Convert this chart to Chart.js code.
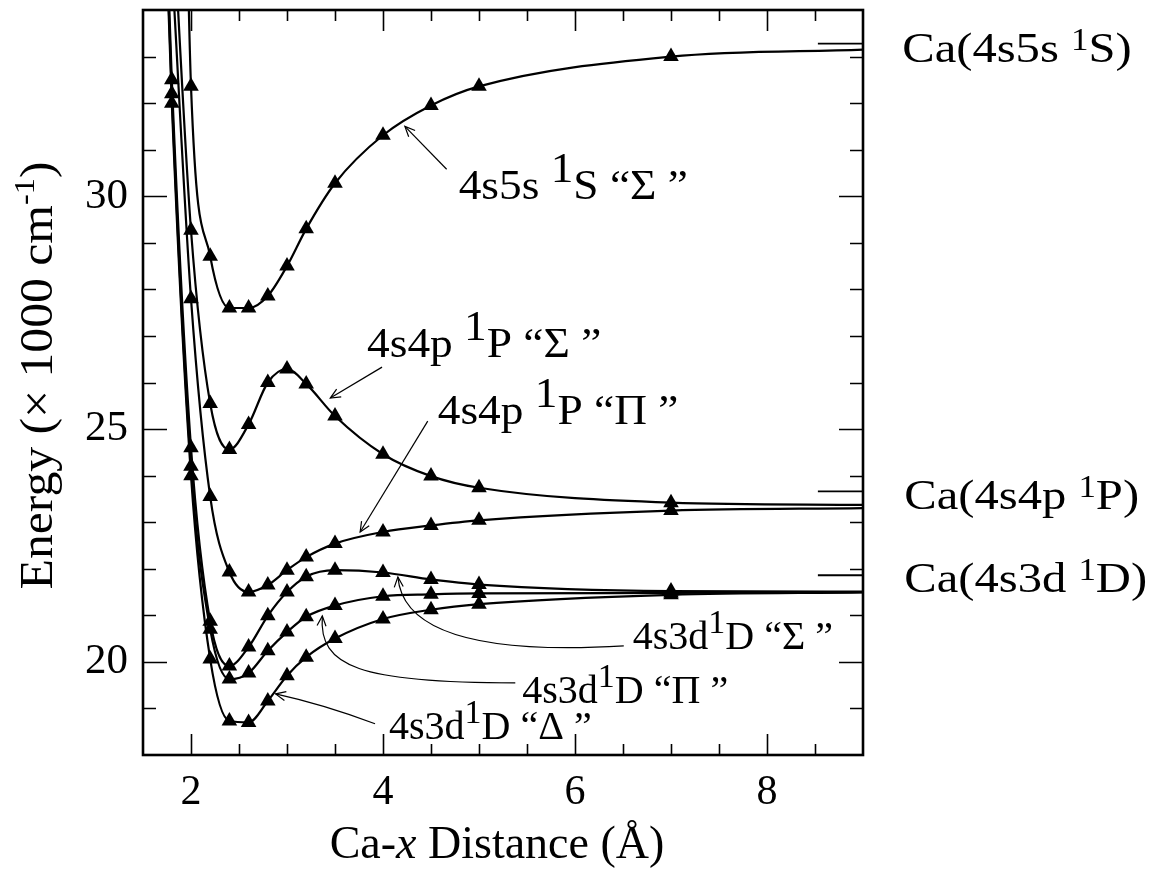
<!DOCTYPE html>
<html><head><meta charset="utf-8">
<script src="https://cdn.jsdelivr.net/npm/chart.js@4.4.0/dist/chart.umd.min.js"></script>
<style>html,body{margin:0;padding:0;background:#fff;}#wrap{width:1149px;height:870px;position:relative;}</style>
</head><body><div id="wrap"><canvas id="c"></canvas></div>
<script>
const FONT = '"Liberation Serif", "Times New Roman", serif';

// ---------- data ----------
const xTickLabels = [2, 4, 6, 8];
const yTickLabels = [20, 25, 30];

const dist_4s5s = [1.9, 2.0, 2.2, 2.4, 2.6, 2.8, 3.0, 3.2, 3.5, 4.0, 4.5, 5.0, 7.0, 9.0];
const e_4s5sSigma = [42.0, 32.36, 28.71, 27.6, 27.6, 27.86, 28.5, 29.3, 30.28, 31.31, 31.95, 32.36, 33.0, 33.15];

const dist_4s4p = [1.8, 2.0, 2.2, 2.4, 2.6, 2.8, 3.0, 3.2, 3.5, 4.0, 4.5, 5.0, 7.0, 9.0];
const e_4s4pSigma = [36.5, 29.27, 25.55, 24.56, 25.1, 26.0, 26.29, 25.97, 25.28, 24.46, 23.99, 23.74, 23.42, 23.37];
const e_4s4pPi    = [35.0, 27.8, 23.55, 21.93, 21.5, 21.65, 21.97, 22.25, 22.54, 22.79, 22.93, 23.04, 23.25, 23.3];

const dist_4s3d = [1.7, 1.8, 2.0, 2.2, 2.4, 2.6, 2.8, 3.0, 3.2, 3.5, 4.0, 4.5, 5.0, 7.0, 9.0];
const e_4s3dSigma = [38.5, 32.5, 24.6, 20.87, 19.91, 20.32, 20.99, 21.5, 21.83, 21.97, 21.92, 21.77, 21.66, 21.52, 21.51];
const e_4s3dPi    = [38.2, 32.2, 24.2, 20.7, 19.63, 19.76, 20.24, 20.64, 20.97, 21.21, 21.41, 21.45, 21.47, 21.48, 21.5];
const e_4s3dDelta = [38.0, 32.0, 24.0, 20.06, 18.73, 18.7, 19.16, 19.7, 20.1, 20.5, 20.92, 21.12, 21.24, 21.44, 21.49];

const asymLevels = [33.28, 23.66, 21.86];   // Ca(4s5s 1S), Ca(4s4p 1P), Ca(4s3d 1D)
const asymRange = [8.53, 9.0];

const xMin = 1.5, xMax = 9, yMin = 18, yMax = 34;

// ---------- build datasets ----------
function zipXY(xs, ys) { return xs.map((x, i) => ({ x: x, y: ys[i] })); }
function curve(xs, ys) {
  return {
    data: zipXY(xs, ys),
    borderColor: '#000', borderWidth: 2.2,
    backgroundColor: '#000',
    pointStyle: 'triangle',
    pointRadius: ctx => { const p = ctx.raw; return (p && (p.x >= 9 || p.y > yMax)) ? 0 : 9; },
    pointBorderWidth: 0,
    pointBackgroundColor: '#000',
    cubicInterpolationMode: 'monotone',
    tension: 0.4,
    clip: 1,
    order: 1
  };
}
const datasets = [
  curve(dist_4s5s, e_4s5sSigma),
  curve(dist_4s4p, e_4s4pSigma),
  curve(dist_4s4p, e_4s4pPi),
  curve(dist_4s3d, e_4s3dSigma),
  curve(dist_4s3d, e_4s3dPi),
  curve(dist_4s3d, e_4s3dDelta)
];
asymLevels.forEach(v => datasets.push({
  data: asymRange.map(x => ({ x: x, y: v })),
  borderColor: '#000', borderWidth: 1.8, pointRadius: 0, tension: 0, clip: 1, order: 2
}));

// ---------- annotations (data coordinates) ----------
const SUP = (t) => ({ t: t, sup: true });
const textLabels = [
  { segs: [{ t: '4s5s ' }, SUP('1'), { t: 'S \u201C\u03A3 \u201D' }], at: [4.788, 29.936], size: 42, sx: 1.08, supK: 1.0, supUp: 17 },
  { segs: [{ t: '4s4p ' }, SUP('1'), { t: 'P \u201C\u03A3 \u201D' }], at: [3.834, 26.545], size: 42, sx: 1.08, supK: 1.0, supUp: 17 },
  { segs: [{ t: '4s4p ' }, SUP('1'), { t: 'P \u201C\u03A0 \u201D' }], at: [4.570, 25.107], size: 42, sx: 1.08, supK: 1.0, supUp: 17 },
  { segs: [{ t: '4s3d' }, SUP('1'), { t: 'D \u201C\u03A3 \u201D' }], at: [6.601, 20.279], size: 40, sx: 1.0, supK: 0.85, supUp: 16 },
  { segs: [{ t: '4s3d' }, SUP('1'), { t: 'D \u201C\u03A0 \u201D' }], at: [5.451, 19.12], size: 40, sx: 1.0, supK: 0.85, supUp: 16 },
  { segs: [{ t: '4s3d' }, SUP('1'), { t: 'D \u201C\u0394 \u201D' }], at: [4.062, 18.348], size: 40, sx: 1.0, supK: 0.85, supUp: 16 },
  { segs: [{ t: 'Ca(4s5s ' }, SUP('1'), { t: 'S)' }], at: [9.409, 32.876], size: 43, sx: 1.13, supK: 0.72, supUp: 12 },
  { segs: [{ t: 'Ca(4s4p ' }, SUP('1'), { t: 'P)' }], at: [9.430, 23.283], size: 43, sx: 1.13, supK: 0.72, supUp: 12 },
  { segs: [{ t: 'Ca(4s3d ' }, SUP('1'), { t: 'D)' }], at: [9.430, 21.502], size: 43, sx: 1.13, supK: 0.72, supUp: 12 }
];
const arrows = [
  { kind: 'line', pts: [[4.663, 30.58], [4.228, 31.50]] },
  { kind: 'line', pts: [[3.990, 26.33], [3.451, 25.665]] },
  { kind: 'line', pts: [[4.466, 25.17], [3.762, 22.79]] },
  { kind: 'quad', pts: [[6.508, 20.343], [4.228, 20.064], [4.155, 21.824]] },
  { kind: 'cubic', pts: [[5.378, 19.549], [3.762, 19.549], [3.326, 19.893], [3.368, 20.987]] },
  { kind: 'quad', pts: [[3.917, 18.670], [3.399, 19.077], [2.881, 19.313]] }
];

function drawRich(ctx, segs, x, y, size, sx, supK, supUp, measureOnly) {
  ctx.save();
  ctx.translate(x, y);
  ctx.scale(sx, 1);
  ctx.textBaseline = 'alphabetic';
  ctx.textAlign = 'left';
  ctx.fillStyle = '#000';
  let cx = 0;
  for (const s of segs) {
    const fs = s.sup ? size * supK : size;
    ctx.font = (s.it ? 'italic ' : '') + fs + 'px ' + FONT;
    if (!measureOnly) ctx.fillText(s.t, cx, s.sup ? -supUp : 0);
    cx += ctx.measureText(s.t).width;
  }
  ctx.restore();
  return cx * sx;
}

function arrowHead(ctx, tx, ty, fx, fy) {
  const a = Math.atan2(ty - fy, tx - fx), len = 11, ang = 0.42;
  ctx.beginPath();
  ctx.moveTo(tx - len * Math.cos(a - ang), ty - len * Math.sin(a - ang));
  ctx.lineTo(tx, ty);
  ctx.lineTo(tx - len * Math.cos(a + ang), ty - len * Math.sin(a + ang));
  ctx.stroke();
}

const decor = {
  id: 'decor',
  afterDatasetsDraw(chart) {
    const ctx = chart.ctx, xs = chart.scales.x, ys = chart.scales.y, ca = chart.chartArea;
    const P = (p) => [xs.getPixelForValue(p[0]), ys.getPixelForValue(p[1])];
    ctx.save();
    ctx.strokeStyle = '#000';
    ctx.lineCap = 'butt';
    // frame
    ctx.lineWidth = 2.6;
    ctx.strokeRect(ca.left, ca.top, ca.right - ca.left, ca.bottom - ca.top);
    // ticks (inward, on all four sides)
    ctx.lineWidth = 1.6;
    ctx.beginPath();
    for (let v = 2; v <= 8.5001; v += 0.5) {
      const major = Math.abs(v / 2 - Math.round(v / 2)) < 1e-6;
      const L = major ? 21 : 11, px = Math.round(xs.getPixelForValue(v)) + 0.5;
      ctx.moveTo(px, ca.bottom); ctx.lineTo(px, ca.bottom - L);
      ctx.moveTo(px, ca.top); ctx.lineTo(px, ca.top + L);
    }
    for (let v = 19; v <= 33; v += 1) {
      const major = v % 5 === 0;
      const L = major ? 24 : 13, py = Math.round(ys.getPixelForValue(v)) + 0.5;
      ctx.moveTo(ca.left, py); ctx.lineTo(ca.left + L, py);
      ctx.moveTo(ca.right, py); ctx.lineTo(ca.right - L, py);
    }
    ctx.stroke();
    // arrows
    ctx.lineWidth = 1.2;
    for (const a of arrows) {
      const q = a.pts.map(P);
      ctx.beginPath();
      ctx.moveTo(q[0][0], q[0][1]);
      if (a.kind === 'line') ctx.lineTo(q[1][0], q[1][1]);
      else if (a.kind === 'quad') ctx.quadraticCurveTo(q[1][0], q[1][1], q[2][0], q[2][1]);
      else ctx.bezierCurveTo(q[1][0], q[1][1], q[2][0], q[2][1], q[3][0], q[3][1]);
      ctx.stroke();
      const n = q.length;
      arrowHead(ctx, q[n - 1][0], q[n - 1][1], q[n - 2][0], q[n - 2][1]);
    }
    // text labels
    for (const l of textLabels) {
      const p = P(l.at);
      drawRich(ctx, l.segs, p[0], p[1], l.size, l.sx, l.supK, l.supUp);
    }
    // x axis title
    const xt = [{ t: 'Ca-' }, { t: 'x', it: true }, { t: ' Distance (\u00C5)' }];
    const wx = drawRich(ctx, xt, 0, 0, 46, 1, 1, 0, true);
    drawRich(ctx, xt, (ca.left + ca.right) / 2 - 6 - wx / 2, ca.bottom + 103, 46, 1, 1, 0);
    // y axis title (rotated)
    const yt = [{ t: 'Energy (\u00D7 1000 cm' }, { t: '-1', sup: true }, { t: ')' }];
    const wy = drawRich(ctx, yt, 0, 0, 46, 1.08, 0.65, 18, true);
    ctx.save();
    ctx.translate(ca.left - 91, (ca.top + ca.bottom) / 2 - 7);
    ctx.rotate(-Math.PI / 2);
    drawRich(ctx, yt, -wy / 2, 0, 46, 1.08, 0.65, 18);
    ctx.restore();
    ctx.restore();
  }
};

new Chart(document.getElementById('c'), {
  type: 'line',
  data: { datasets: datasets },
  options: {
    responsive: true,
    maintainAspectRatio: false,
    animation: false,
    events: [],
    layout: { padding: { top: 10, right: 286, left: 0, bottom: 0 } },
    plugins: { legend: { display: false }, tooltip: { enabled: false } },
    scales: {
      x: {
        type: 'linear', position: 'bottom', min: xMin, max: xMax,
        afterBuildTicks: s => { s.ticks = xTickLabels.map(v => ({ value: v })); },
        afterFit: s => { s.height = 115; s.paddingLeft = 0; s.paddingRight = 0; },
        grid: { display: false, drawTicks: false },
        border: { display: false },
        ticks: { color: '#000', padding: 13, maxRotation: 0, font: { family: FONT, size: 42 } }
      },
      y: {
        type: 'linear', position: 'left', min: yMin, max: yMax,
        afterBuildTicks: s => { s.ticks = yTickLabels.map(v => ({ value: v })); },
        afterFit: s => { s.width = 143; s.paddingTop = 0; s.paddingBottom = 0; },
        grid: { display: false, drawTicks: false },
        border: { display: false },
        ticks: { color: '#000', padding: 15, font: { family: FONT, size: 43 } }
      }
    }
  },
  plugins: [decor]
});
</script>
</body></html>
